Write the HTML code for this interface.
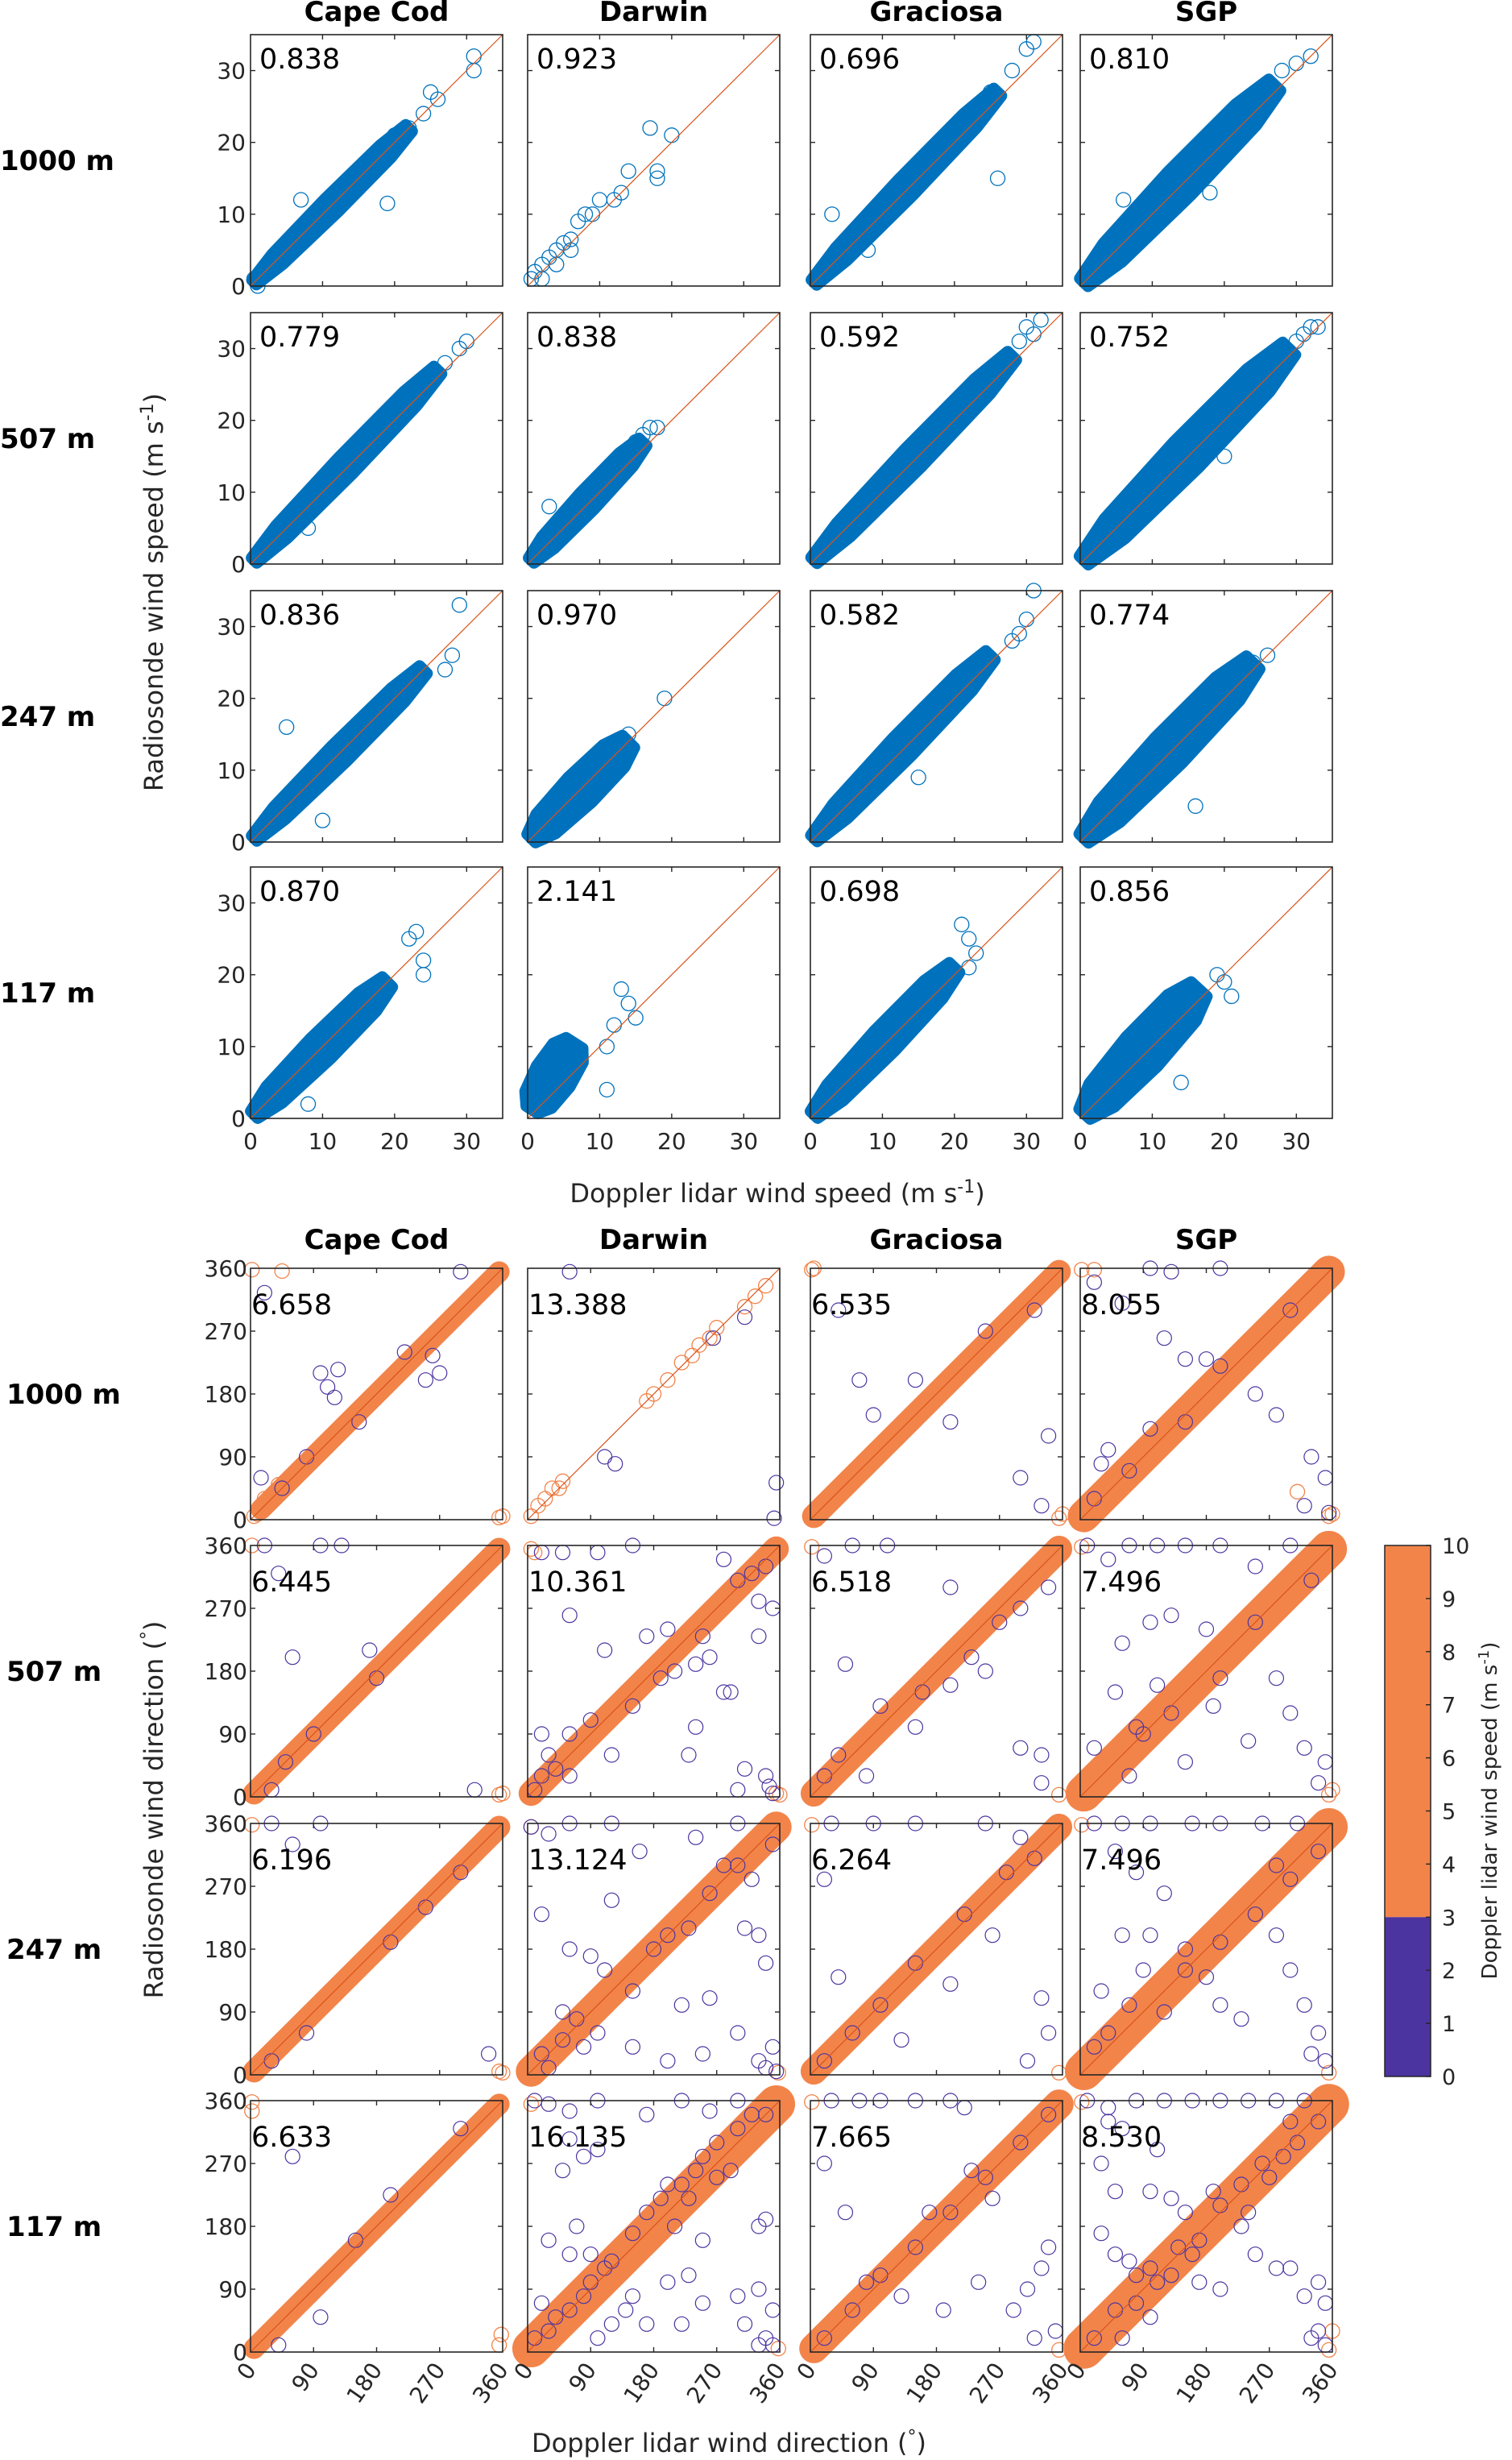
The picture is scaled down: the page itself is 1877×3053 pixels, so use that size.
<!DOCTYPE html>
<html><head><meta charset="utf-8">
<style>
html,body{margin:0;padding:0;background:#fff;}
svg{display:block;font-family:"DejaVu Sans","Liberation Sans",sans-serif;}
</style></head>
<body>
<svg id="fig" width="1877" height="3053" viewBox="0 0 1877 3053" xmlns="http://www.w3.org/2000/svg"></svg>
<script>
// ---------- data ----------
const sites = ["Cape Cod","Darwin","Graciosa","SGP"];
const heights = ["1000 m","507 m","247 m","117 m"];
const speedTicks = [0,10,20,30];
const dirTicks = [0,90,180,270,360];
const cbTicks = [0,1,2,3,4,5,6,7,8,9,10];
const speedRmse = [["0.838","0.923","0.696","0.810"],["0.779","0.838","0.592","0.752"],["0.836","0.970","0.582","0.774"],["0.870","2.141","0.698","0.856"]];
const dirRmse = [["6.658","13.388","6.535","8.055"],["6.445","10.361","6.518","7.496"],["6.196","13.124","6.264","7.496"],["6.633","16.135","7.665","8.530"]];
// speed clouds: [x-start, y-start, x-end, y-end, width (m/s)] ; null = sparse
const speedCloud = [
 [[0.5,0.5,22,22,2.6],null,[0.5,0.5,26,27,3],[0.5,0.5,27,28,4.6]],
 [[0.5,0.5,26,27,3],[0.5,0.5,16,17,3],[0.5,0.5,28,29,3.4],[0.5,0.5,29,30,5]],
 [[0.5,0.5,24,24,3],[0.5,0.5,14,14,4.8],[0.5,0.5,25,26,3.6],[0.5,0.5,24,25,5.2]],
 [[0.5,0.5,19,19,4],[0.6,1.2,6.5,10.5,5.5],[0.5,0.5,20,21,4],[0.6,0.6,16.5,18,6]]
];
const speedPts = [
 [[[31,32],[31,30],[19,11.5],[26,26],[24,24],[20,21],[7,12],[22,22],[25,27],[0.5,1],[1,0]],
  [[0.5,1],[1,2],[2,3],[2,1],[3,4],[4,5],[4,3],[5,6],[6,6.5],[6,5],[7,9],[8,10],[9,10],[10,12],[13,13],[14,16],[17,22],[18,16],[18,15],[20,21],[12,12]],
  [[30,33],[31,34],[26,15],[3,10],[8,5],[28,30],[25,27]],
  [[32,32],[30,31],[28,30],[18,13],[6,12]]],
 [[[30,31],[29,30],[27,28],[25,26],[8,5]],
  [[17,19],[18,19],[16,18],[3,8],[15,17]],
  [[32,34],[30,33],[31,32],[29,31]],
  [[33,33],[32,33],[31,32],[30,31],[20,15]]],
 [[[29,33],[28,26],[27,24],[10,3],[5,16]],
  [[19,20],[13,13],[14,15],[12,11],[9,8]],
  [[31,35],[29,29],[28,28],[30,31],[15,9]],
  [[26,26],[24,25],[23,22],[16,5]]],
 [[[22,25],[23,26],[24,22],[24,20],[8,2]],
  [[13,18],[14,16],[15,14],[12,13],[11,10],[11,4]],
  [[21,27],[22,25],[23,23],[22,21],[18,18],[7,6]],
  [[19,20],[20,19],[21,17],[14,5]]]
];
// direction orange band: [x-start, x-end, width (deg)] ; null = sparse
const dirBand = [
 [[15,355,16],null,[5,355,20],[5,355,32]],
 [[5,355,18],[5,355,22],[5,355,24],[5,355,38]],
 [[5,355,18],[5,355,30],[5,355,24],[5,355,40]],
 [[5,355,16],[5,355,40],[5,355,28],[5,355,44]]
];
const dirOrange = [
 [[[2,358],[45,356],[355,3],[360,5],[20,30],[40,50],[70,75],[100,95],[115,120],[130,130],[160,165],[180,180],[5,5],[10,8]],
  [[5,5],[15,20],[25,30],[35,45],[45,45],[50,55],[170,170],[180,180],[200,200],[220,225],[235,235],[245,250],[260,260],[270,275],[310,305],[325,320],[340,335]],
  [[2,358],[355,2],[360,8],[5,360]],
  [[2,358],[20,358],[355,5],[360,8],[310,40],[5,2]]],
 [[[2,360],[355,3],[360,5],[5,3]],[[5,355],[10,350],[355,5],[360,3]],[[2,358],[355,3]],[[2,358],[355,3],[360,10]]],
 [[[2,358],[355,5],[360,3]],[[5,355],[358,3]],[[2,358],[355,3]],[[2,358],[355,3]]],
 [[[2,358],[2,345],[355,10],[358,25]],[[5,355],[358,5]],[[2,358],[355,3]],[[2,358],[355,3],[360,30]]]
];
const dirPurple = [
 [[[20,325],[15,60],[45,45],[80,90],[120,175],[110,190],[100,210],[125,215],[155,140],[270,210],[220,240],[300,355],[250,200],[260,235]],
  [[60,355],[110,90],[125,80],[310,290],[355,53],[352,2],[265,260]],
  [[40,300],[90,150],[150,200],[200,140],[340,120],[330,20],[300,60],[70,200],[250,270],[320,300]],
  [[100,360],[130,355],[200,360],[20,340],[60,310],[120,260],[150,230],[180,230],[250,180],[280,150],[330,90],[350,60],[300,300],[200,220],[100,130],[150,140],[70,70],[20,30],[40,100],[30,80],[320,20],[355,10]]],
 [[[20,360],[100,360],[130,360],[60,200],[170,210],[180,170],[40,320],[50,50],[90,90],[320,10],[30,10]],
  [[20,350],[50,350],[100,350],[150,360],[280,340],[240,100],[300,10],[330,280],[60,260],[110,210],[90,110],[240,190],[200,240],[250,230],[260,200],[280,150],[290,150],[20,90],[60,90],[230,60],[310,40],[350,270],[330,230],[210,180],[190,170],[170,230],[150,130],[120,60],[300,310],[340,30],[345,15],[350,5],[10,10],[20,30],[40,40],[60,30],[30,60],[340,330],[320,320]],
  [[20,345],[60,360],[110,360],[200,300],[50,190],[100,130],[150,100],[200,160],[250,180],[300,270],[300,70],[330,60],[340,300],[20,30],[40,60],[80,30],[160,150],[230,200],[270,250],[330,20]],
  [[10,360],[40,340],[70,360],[110,360],[150,360],[200,360],[250,330],[300,360],[60,220],[100,250],[130,260],[180,240],[280,170],[300,120],[320,70],[340,20],[350,50],[20,70],[70,30],[90,90],[130,120],[200,170],[250,250],[330,310],[150,50],[240,80],[190,130],[110,160],[50,150],[80,100]]],
 [[[30,360],[100,360],[60,330],[340,30],[30,20],[80,60],[200,190],[250,240],[300,290]],
  [[5,355],[30,345],[60,360],[120,360],[160,320],[240,340],[300,360],[20,230],[60,180],[90,170],[110,150],[50,90],[80,40],[150,40],[200,20],[250,30],[300,60],[330,20],[350,40],[340,10],[355,5],[30,10],[20,30],[50,50],[70,80],[100,60],[150,120],[180,180],[200,200],[230,210],[260,260],[280,300],[300,300],[320,280],[350,330],[330,200],[310,210],[340,160],[220,100],[120,250],[260,110]],
  [[30,360],[90,360],[150,360],[250,360],[300,340],[20,280],[40,140],[130,50],[200,130],[260,200],[330,110],[340,60],[310,20],[20,20],[60,60],[100,100],[150,160],[220,230],[280,290],[320,310]],
  [[20,360],[60,360],[100,360],[160,360],[200,360],[260,360],[310,360],[50,320],[80,290],[120,260],[30,120],[60,200],[100,200],[150,150],[200,190],[250,230],[280,200],[300,150],[320,100],[340,60],[350,20],[330,30],[20,40],[40,60],[70,100],[120,90],[180,140],[200,100],[230,80],[280,300],[340,320],[300,280],[150,180],[90,150]]],
 [[[60,280],[40,10],[100,50],[200,225],[150,160],[300,320]],
  [[10,360],[30,355],[60,345],[100,360],[170,340],[220,360],[260,345],[300,360],[340,340],[60,305],[80,280],[100,290],[30,160],[70,180],[110,120],[90,140],[60,140],[150,80],[200,100],[230,110],[250,70],[300,80],[330,90],[310,40],[340,20],[350,10],[20,70],[40,50],[10,20],[30,30],[60,60],[80,80],[90,100],[120,130],[150,170],[170,200],[190,220],[200,240],[220,240],[240,260],[250,280],[270,300],[300,320],[320,340],[210,180],[230,220],[270,250],[290,260],[250,160],[330,180],[340,190],[350,60],[330,10],[100,20],[120,40],[140,60],[170,40],[220,40],[50,260]],
  [[30,360],[70,360],[100,360],[150,360],[200,360],[220,350],[20,270],[50,200],[80,100],[130,80],[190,60],[240,100],[290,60],[310,90],[330,120],[340,150],[350,30],[320,20],[20,20],[60,60],[100,110],[150,150],[200,200],[250,250],[300,300],[340,340],[170,200],[230,260],[260,220]],
  [[10,360],[40,350],[80,360],[120,360],[160,360],[200,360],[240,360],[280,360],[320,360],[40,330],[60,320],[110,290],[30,270],[50,230],[100,230],[130,220],[30,170],[50,140],[70,130],[80,110],[100,120],[130,110],[160,140],[170,100],[200,90],[230,180],[250,140],[280,120],[300,120],[320,80],[340,100],[350,70],[340,30],[350,10],[330,20],[20,20],[50,60],[80,70],[110,100],[140,150],[170,160],[200,210],[230,240],[260,270],[290,280],[310,300],[340,330],[150,200],[190,230],[240,200],[270,250],[300,330],[100,50],[60,20]]]
];

// ---------- layout ----------
const NS = "http://www.w3.org/2000/svg";
const svg = document.getElementById("fig");
const colL = [311, 655, 1006, 1341];
const PW = 313;
const speedTop = [43, 388, 733, 1076];
const dirTop = [1574, 1918, 2263, 2607];
const PH = 312;
const BLUE = "#0072BD", ORANGE = "#F2844A", PURPLE = "#4B34A0", RED = "#D95319", AX = "#262626";
const PROFILE_T = [0, 0.15, 0.5, 0.85, 1];
const PROFILE_W = [0.35, 0.8, 1, 0.9, 0.5];

function mk(tag, attrs, parent) {
  const e = document.createElementNS(NS, tag);
  for (const k in attrs) e.setAttribute(k, attrs[k]);
  (parent || svg).appendChild(e);
  return e;
}
function txt(str, x, y, size, opts, parent) {
  opts = opts || {};
  const t = mk("text", {x: x, y: y, "font-size": size, fill: opts.fill || "#000",
    "text-anchor": opts.anchor || "start", "font-weight": opts.bold ? "bold" : "normal"}, parent);
  if (opts.transform) t.setAttribute("transform", opts.transform);
  t.textContent = str;
  return t;
}
function scale(v, d0, d1, r0, r1) { return r0 + (v - d0) / (d1 - d0) * (r1 - r0); }
function bandPolygon(x1, y1, x2, y2, wpx, color, parent) {
  const dx = x2 - x1, dy = y2 - y1, L = Math.hypot(dx, dy);
  const nx = -dy / L, ny = dx / L;
  const left = [], right = [];
  PROFILE_T.forEach((t, i) => {
    const cx = x1 + dx * t, cy = y1 + dy * t, h = wpx / 2 * PROFILE_W[i];
    left.push((cx + nx * h) + "," + (cy + ny * h));
    right.unshift((cx - nx * h) + "," + (cy - ny * h));
  });
  return mk("polygon", {points: left.concat(right).join(" "), fill: color, stroke: color, "stroke-width": 14, "stroke-linejoin": "round"}, parent);
}

function panelFrame(g, x0, y0, max, ticks) {
  mk("rect", {x: x0, y: y0, width: PW, height: PH, fill: "none", stroke: AX, "stroke-width": 1.6}, g);
  ticks.forEach(t => {
    if (t <= 0 || t >= max) return;
    const px = scale(t, 0, max, x0, x0 + PW), py = scale(t, 0, max, y0 + PH, y0);
    mk("line", {x1: px, y1: y0 + PH, x2: px, y2: y0 + PH - 6, stroke: AX, "stroke-width": 1.4}, g);
    mk("line", {x1: px, y1: y0, x2: px, y2: y0 + 6, stroke: AX, "stroke-width": 1.4}, g);
    mk("line", {x1: x0, y1: py, x2: x0 + 6, y2: py, stroke: AX, "stroke-width": 1.4}, g);
    mk("line", {x1: x0 + PW, y1: py, x2: x0 + PW - 6, y2: py, stroke: AX, "stroke-width": 1.4}, g);
  });
}

// ---------- speed panels ----------
const SMAX = 35;
for (let r = 0; r < 4; r++) {
  for (let c = 0; c < 4; c++) {
    const x0 = colL[c], y0 = speedTop[r];
    const g = mk("g", {});
    
    
    const sx = v => scale(v, 0, SMAX, x0, x0 + PW);
    const sy = v => scale(v, 0, SMAX, y0 + PH, y0);
    const cl = speedCloud[r][c];
    if (cl) {
      const band = bandPolygon(sx(cl[0]), sy(cl[1]), sx(cl[2]), sy(cl[3]), cl[4] * PW / SMAX, BLUE, g);
      
      
    }
    speedPts[r][c].forEach(p => {
      const ci = mk("circle", {cx: sx(p[0]), cy: sy(p[1]), r: 9, fill: "none", stroke: BLUE, "stroke-width": 1.3}, g);
      
      
    });
    mk("line", {x1: sx(0), y1: sy(0), x2: sx(SMAX), y2: sy(SMAX), stroke: RED, "stroke-width": 1.2}, g);
    panelFrame(g, x0, y0, SMAX, speedTicks);
    const v = txt(speedRmse[r][c], x0 + 11, y0 + 42, 35, {}, g);
    
    
    if (c === 0) speedTicks.forEach(t => {
      const l = txt(String(t), x0 - 6, sy(t) + 10, 28, {anchor: "end", fill: AX}, g);
      
      
    });
    if (r === 3) speedTicks.forEach(t => {
      const l = txt(String(t), sx(t), y0 + PH + 38, 28, {anchor: "middle", fill: AX}, g);
      
      
    });
  }
}

// ---------- direction panels ----------
const DMAX = 360;
function cbColor(spd) { return spd >= 3 ? ORANGE : PURPLE; }
for (let r = 0; r < 4; r++) {
  for (let c = 0; c < 4; c++) {
    const x0 = colL[c], y0 = dirTop[r];
    const g = mk("g", {});
    
    
    const sx = v => scale(v, 0, DMAX, x0, x0 + PW);
    const sy = v => scale(v, 0, DMAX, y0 + PH, y0);
    const b = dirBand[r][c];
    if (b) {
      const band = mk("line", {x1: sx(b[0]), y1: sy(b[0]), x2: sx(b[1]), y2: sy(b[1]), stroke: ORANGE,
        "stroke-width": b[2] * PW / DMAX + 12, "stroke-linecap": "round"}, g);
      
      
    }
    dirOrange[r][c].forEach(p => {
      const ci = mk("circle", {cx: sx(p[0]), cy: sy(p[1]), r: 9, fill: "none", stroke: ORANGE, "stroke-width": 1.3}, g);
      
      
    });
    dirPurple[r][c].forEach(p => {
      const ci = mk("circle", {cx: sx(p[0]), cy: sy(p[1]), r: 9, fill: "none", stroke: PURPLE, "stroke-width": 1.2}, g);
      
      
    });
    mk("line", {x1: sx(0), y1: sy(0), x2: sx(DMAX), y2: sy(DMAX), stroke: RED, "stroke-width": 1.2}, g);
    panelFrame(g, x0, y0, DMAX, dirTicks);
    const v = txt(dirRmse[r][c], x0 + 1, y0 + 57, 35, {}, g);
    
    
    if (c === 0) dirTicks.forEach(t => {
      const l = txt(String(t), x0 - 4, sy(t) + 10, 28, {anchor: "end", fill: AX}, g);
      
      
    });
    if (r === 3) dirTicks.forEach(t => {
      const X = sx(t) + 8, Y = y0 + PH + 22;
      const l = txt(String(t), X, Y, 28, {anchor: "end", fill: AX, transform: "rotate(-55 " + X + " " + Y + ")"}, g);
      
      
    });
  }
}

// ---------- titles & labels ----------
sites.forEach((s, c) => {
  const t1 = txt(s, colL[c] + PW / 2, 26, 34, {anchor: "middle", bold: true});
  
  
  const t2 = txt(s, colL[c] + PW / 2, 1550, 34, {anchor: "middle", bold: true});
  
  
});
heights.forEach((h, r) => {
  const a = txt(h, 0, speedTop[r] + PH / 2 + 12, 34, {bold: true});
  
  
  const b = txt(h, 8, dirTop[r] + PH / 2 + 12, 34, {bold: true});
  
  
});
function richTitle(x, y, rot, parts, name) {
  const t = mk("text", {x: x, y: y, "font-size": 32, fill: AX, "text-anchor": "middle"});
  if (rot) t.setAttribute("transform", "rotate(" + rot + " " + x + " " + y + ")");
  parts.forEach(p => {
    const s = mk("tspan", {}, t);
    if (p.sup) { s.setAttribute("dy", "-12"); s.setAttribute("font-size", "22"); }
    if (p.down) { s.setAttribute("dy", "12"); }
    s.textContent = p.t;
  });
  
  
}
richTitle(202, 735, -90, [{t: "Radiosonde wind speed (m s"}, {t: "-1", sup: 1}, {t: ")", down: 1}], "speed-y-axis-title");
richTitle(965, 1492, 0, [{t: "Doppler lidar wind speed (m s"}, {t: "-1", sup: 1}, {t: ")", down: 1}], "speed-x-axis-title");
richTitle(202, 2246, -90, [{t: "Radiosonde wind direction ("}, {t: "°", sup: 1}, {t: ")", down: 1}], "direction-y-axis-title");
richTitle(905, 3043, 0, [{t: "Doppler lidar wind direction ("}, {t: "°", sup: 1}, {t: ")", down: 1}], "direction-x-axis-title");

// ---------- colorbar ----------
const cbX = 1719, cbW = 57, cbTop = 1918, cbBot = 2577;
const cy = v => scale(v, 0, 10, cbBot, cbTop);
const cbg = mk("g", {});


mk("rect", {x: cbX, y: cy(10), width: cbW, height: cy(3) - cy(10), fill: cbColor(5)}, cbg);
mk("rect", {x: cbX, y: cy(3), width: cbW, height: cy(0) - cy(3), fill: cbColor(1)}, cbg);
mk("rect", {x: cbX, y: cbTop, width: cbW, height: cbBot - cbTop, fill: "none", stroke: AX, "stroke-width": 1.5}, cbg);
cbTicks.forEach(t => {
  mk("line", {x1: cbX + cbW, y1: cy(t), x2: cbX + cbW - 6, y2: cy(t), stroke: AX, "stroke-width": 1.4}, cbg);
  const l = txt(String(t), cbX + cbW + 14, cy(t) + 10, 27, {fill: AX}, cbg);
  
  
});
(function () {
  const x = 1858, y = 2247;
  const t = mk("text", {x: x, y: y, "font-size": 26, fill: AX, "text-anchor": "middle", transform: "rotate(-90 " + x + " " + y + ")"});
  const a = mk("tspan", {}, t); a.textContent = "Doppler lidar wind speed (m s";
  const b = mk("tspan", {dy: "-10", "font-size": "18"}, t); b.textContent = "-1";
  const c = mk("tspan", {dy: "10"}, t); c.textContent = ")";
  
  
})();
</script>
</body></html>
